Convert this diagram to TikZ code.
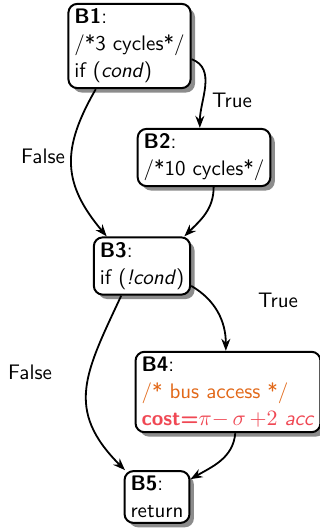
\documentclass[tikz,border=0pt]{standalone}
\usepackage{fontspec}
\usetikzlibrary{shadows,arrows.meta}
\definecolor{busorange}{RGB}{226,104,24}
\definecolor{costred}{RGB}{240,72,84}
\tikzset{
  block/.style={draw, line width=1pt, rounded corners=4.5pt, fill=white,
    align=left, inner xsep=3pt, inner ysep=2.5pt,
    font=\sffamily\fontsize{10.5}{13.5}\selectfont,
    drop shadow={shadow xshift=2.2pt, shadow yshift=-2.2pt, fill=black!45, opacity=1}},
  flow/.style={-{Stealth[length=6pt,width=4.5pt]}, line width=0.9pt},
  lbl/.style={font=\sffamily\fontsize{10.5}{13.5}\selectfont}
}
\begin{document}
\begin{tikzpicture}[x=0.5pt, y=-0.5pt]
\useasboundingbox (0,0) rectangle (320,529);

\node[block] (b1) at (129.5,46) {\textbf{B1}:\\/*3 cycles*/\\if (\textit{cond})};
\node[block] (b2) at (204,157.5) {\textbf{B2}:\\/*10 cycles*/};
\node[block] (b3) at (142,266) {\textbf{B3}:\\if (\textit{!cond})};
\node[block] (b4) at (228,392) {\textbf{B4}:\\\textcolor{busorange}{/* bus access */}\\\textcolor{costred}{\textbf{cost=}$\pi{-}\,\sigma\,{+}2$ \textit{acc}}};
\node[block] (b5) at (157,497) {\textbf{B5}:\\return};

\draw[flow] (b1.-12) to[out=-20, in=90] (b2.98);
\draw[flow] (b1.-128) to[out=240, in=130, looseness=1.2] (b3.140);
\draw[flow] (b2.-72) to[out=-90, in=45] (b3.35);
\draw[flow] (b3.-22) to[out=-30, in=90] (b4.93);
\draw[flow] (b3.-125) to[out=245, in=135, looseness=1.25] (b5.140);
\draw[flow] (b4.-80) to[out=-95, in=30] (b5.28);

\node[lbl] (t1) at (232,100) {True};
\node[lbl] (f1) at (43,156) {False};
\node[lbl] (t2) at (278,300) {True};
\node[lbl] (f2) at (30,372) {False};
\end{tikzpicture}
\end{document}
